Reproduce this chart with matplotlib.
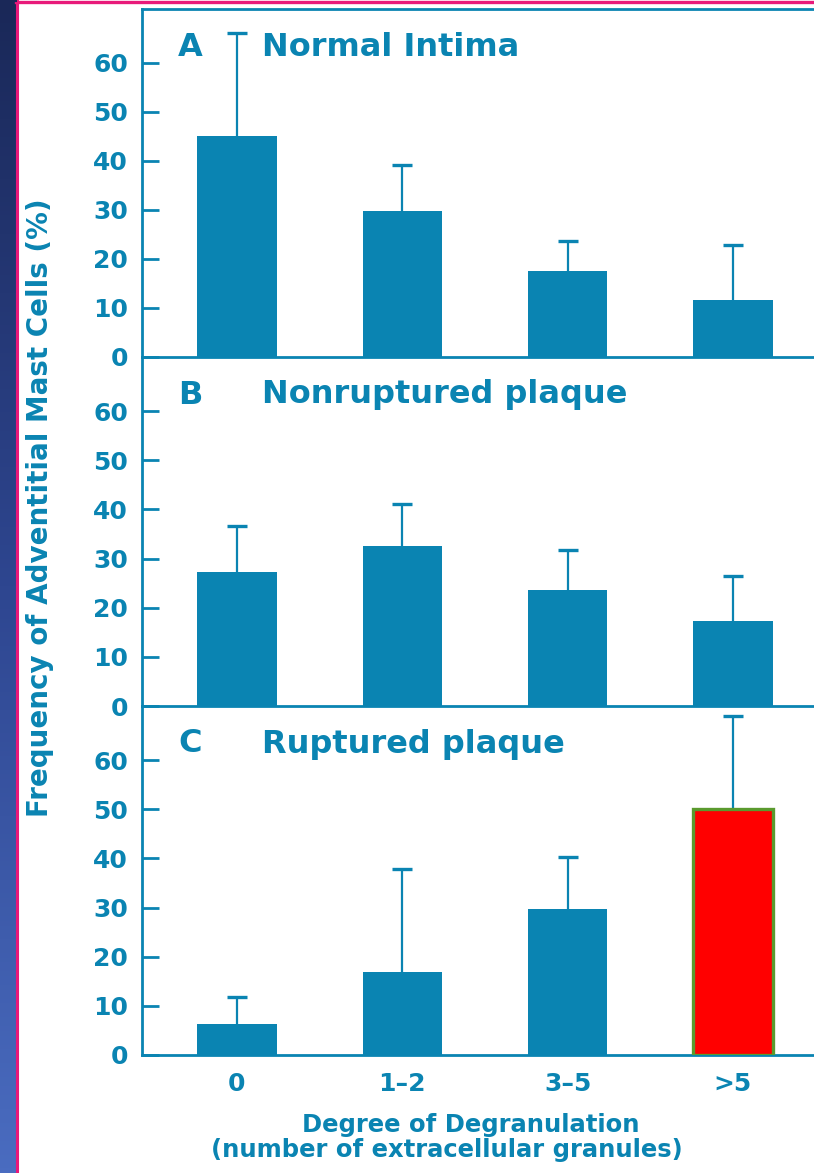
import numpy as np
import matplotlib
matplotlib.use("Agg")
import matplotlib.pyplot as plt
from matplotlib.colors import LinearSegmentedColormap

plt.rcParams['font.family'] = ['DejaVu Sans']
plt.rcParams['font.weight'] = 'bold'

categories = ["0", "1\u20132", "3\u20135", ">5"]
panel_titles = [("A", "Normal Intima"), ("B", "Nonruptured plaque"), ("C", "Ruptured plaque")]
normal_vals = [45.1, 29.8, 17.6, 11.6]
normal_err = [21.0, 9.4, 6.1, 11.3]
nonrupt_vals = [27.3, 32.6, 23.6, 17.2]
nonrupt_err = [9.4, 8.4, 8.2, 9.2]
rupt_vals = [6.4, 16.8, 29.7, 50.0]
rupt_err = [5.3, 21.1, 10.5, 18.9]
highlight_index = 3

yticks = [0, 10, 20, 30, 40, 50, 60]

BLUE = "#0a84b2"
PINK = "#e8197a"
W, H = 814, 1173
fig = plt.figure(figsize=(W / 100, H / 100), dpi=100)
fig.patch.set_facecolor("white")

# left blue gradient strip
bg = fig.add_axes([0, 0, 16 / W, 1])
grad = np.linspace(0, 1, 256).reshape(-1, 1)
cmap = LinearSegmentedColormap.from_list("bg", ["#1a2858", "#2e4690", "#4a6cc0"])
bg.imshow(grad, aspect="auto", cmap=cmap, extent=[0, 1, 0, 1], origin="upper")
bg.set_axis_off()
fig.add_artist(plt.Line2D([16.5 / W, 16.5 / W], [0, 1 - 1 / H], color=PINK, lw=2.2, transform=fig.transFigure))
fig.add_artist(plt.Line2D([16 / W, 1], [1 - 2 / H, 1 - 2 / H], color=PINK, lw=2.4, transform=fig.transFigure))
fig.add_artist(plt.Line2D([0, 16 / W], [1 - 0.5 / H, 1 - 0.5 / H], color="#1a2858", lw=1.5, transform=fig.transFigure))

panels = [(normal_vals, normal_err), (nonrupt_vals, nonrupt_err), (rupt_vals, rupt_err)]
tops = [9, 357, 706]
bottoms = [357, 706, 1055]
left_px = 142
x = np.arange(len(categories))
for i, ((vals, errs), (letter, title)) in enumerate(zip(panels, panel_titles)):
    t, b = tops[i], bottoms[i]
    ax = fig.add_axes([left_px / W, 1 - b / H, 1 - left_px / W, (b - t) / H])
    ax.set_facecolor("none")
    vals = np.array(vals)
    errs = np.array(errs)
    ax.bar(x, vals, width=0.48, color=BLUE, zorder=2)
    ax.vlines(x, vals, vals + errs, colors=BLUE, linewidth=1.6, zorder=1)
    ax.plot(x, vals + errs, ls="none", marker="_", markersize=15, markeredgewidth=2.4,
            color=BLUE, zorder=1)
    if i == 2:
        ax.bar([x[highlight_index]], [vals[highlight_index]], width=0.48, color="#ff0000",
               edgecolor="#5a9a2e", linewidth=2.4, zorder=3)
    ax.set_xlim(-0.574, 3.49)
    ax.set_ylim(0, 71)
    ax.set_yticks(yticks)
    ax.set_yticklabels([str(v) for v in yticks])
    ax.tick_params(axis="y", direction="in", length=12, width=2, color=BLUE,
                   labelcolor=BLUE, labelsize=18, pad=10)
    for lab in ax.get_yticklabels():
        lab.set_fontweight("bold")
    ax.spines["right"].set_visible(False)
    ax.spines["top"].set_visible(i == 0)
    for s in ["left", "bottom", "top"]:
        ax.spines[s].set_color(BLUE)
        ax.spines[s].set_linewidth(2.0)
    ty = H - (47 + t - 9)
    ax.text(178, ty, letter, transform=None, fontsize=23, color=BLUE,
            fontweight="bold", va="center", ha="left")
    ax.text(262, ty, title, transform=None, fontsize=23, color=BLUE,
            fontweight="bold", va="center", ha="left")
    if i < 2:
        ax.set_xticks([])
    else:
        ax.set_xticks(x)
        ax.set_xticklabels(categories)
        ax.tick_params(axis="x", length=0, pad=12, labelsize=18, labelcolor=BLUE)
        for lab in ax.get_xticklabels():
            lab.set_fontweight("bold")

fig.text(40 / W, 1 - 508 / H, "Frequency of Adventitial Mast Cells (%)", rotation=90,
         ha="center", va="center", fontsize=20, color=BLUE, fontweight="bold")
fig.text(471 / W, 1 - 1125 / H, "Degree of Degranulation", ha="center", va="center",
         fontsize=17.5, color=BLUE, fontweight="bold")
fig.text(447 / W, 1 - 1150 / H, "(number of extracellular granules)", ha="center", va="center",
         fontsize=17.5, color=BLUE, fontweight="bold")

fig.savefig("out.png", dpi=100, facecolor=fig.get_facecolor())
